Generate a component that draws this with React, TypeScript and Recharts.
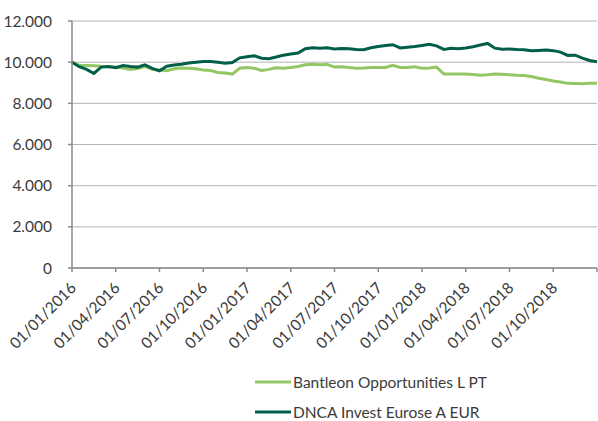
import React from "react";
import { LineChart, Line, XAxis, YAxis, CartesianGrid, Legend } from "recharts";

// Half-month steps from 01/01/2016 (index 0) to 01/01/2019 (index 72)
const tickLabels = [
  "01/01/2016", "01/04/2016", "01/07/2016", "01/10/2016",
  "01/01/2017", "01/04/2017", "01/07/2017", "01/10/2017",
  "01/01/2018", "01/04/2018", "01/07/2018", "01/10/2018", "",
];

const yTicks = [0, 2000, 4000, 6000, 8000, 10000, 12000];

const bantleon = [
  10000, 9840, 9840, 9830, 9800, 9780, 9760, 9710, 9640, 9690,
  9790, 9650, 9620, 9580, 9680, 9720, 9700, 9680, 9620, 9590,
  9500, 9470, 9420, 9710, 9740, 9700, 9600, 9650, 9730, 9700,
  9740, 9790, 9870, 9900, 9870, 9890, 9760, 9780, 9740, 9710,
  9720, 9740, 9740, 9740, 9850, 9740, 9740, 9780, 9710, 9720,
  9760, 9420, 9420, 9420, 9420, 9400, 9370, 9390, 9420, 9410,
  9390, 9360, 9350, 9300, 9220, 9160, 9090, 9040, 8970, 8960,
  8950, 8970, 8980,
];

const dnca = [
  10000, 9780, 9650, 9450, 9760, 9790, 9730, 9840, 9790, 9760,
  9870, 9700, 9580, 9800, 9860, 9900, 9960, 10000, 10030, 10030,
  10000, 9950, 9980, 10210, 10260, 10310, 10190, 10170, 10250, 10340,
  10400, 10440, 10650, 10700, 10680, 10700, 10640, 10660, 10650, 10610,
  10600, 10700, 10760, 10810, 10850, 10690, 10730, 10760, 10810, 10870,
  10790, 10620, 10670, 10650, 10690, 10750, 10830, 10910, 10680, 10630,
  10640, 10610, 10600, 10550, 10570, 10590, 10560, 10490, 10330, 10340,
  10200, 10080, 10020,
];

const data = bantleon.map((v, i) => ({ t: i, bantleon: v, dnca: dnca[i] }));
const xTicks = tickLabels.map((_, i) => i * 6);

const FONT = "Lato, 'DejaVu Sans', sans-serif";
const FS = 15.5;
const TEXT = "#3b3b3b";
const AXIS = "#8a8a8a";
const LIGHT = "#93c764";
const DARK = "#005e49";

const fmtY = (v: number) =>
  v === 0 ? "0" : `${Math.floor(v / 1000)}.${String(v % 1000).padStart(3, "0")}`;

const XTick = (props: any) => {
  const { x, y, payload } = props;
  const label = tickLabels[Math.round(payload.value / 6)];
  if (!label) return null;
  const ax = x + 5;
  const ay = y + 17;
  return (
    <text
      x={ax}
      y={ay}
      textAnchor="end"
      transform={`rotate(-45, ${ax}, ${ay})`}
      fontSize={FS}
      fontFamily={FONT}
      fill={TEXT}
    >
      {label}
    </text>
  );
};

const LegendContent = (props: any) => {
  const { payload } = props;
  return (
    <div style={{ fontFamily: FONT, fontSize: FS, color: TEXT }}>
      {(payload || []).map((p: any) => (
        <div key={p.value} style={{ display: "flex", alignItems: "center", height: 30 }}>
          <svg width={38} height={6} style={{ display: "block" }}>
            <line x1={0} y1={3} x2={36} y2={3} stroke={p.color} strokeWidth={3} />
          </svg>
          <span style={{ whiteSpace: "nowrap" }}>{p.value}</span>
        </div>
      ))}
    </div>
  );
};

export default function App() {
  return (
    <div style={{ position: "absolute", left: 0, top: 0, width: 598, height: 421, background: "#fff" }}>
      <LineChart width={598} height={421} data={data} margin={{ top: 21, right: 1, left: 0, bottom: 0 }}>
        <CartesianGrid horizontal vertical={false} stroke="#b3b3b3" strokeWidth={1} />
        <XAxis
          dataKey="t"
          type="number"
          domain={[0, 72]}
          ticks={xTicks}
          interval={0}
          height={153}
          tickSize={4}
          tickMargin={0}
          stroke={AXIS}
          strokeWidth={1.5}
          tick={<XTick />}
        />
        <YAxis
          domain={[0, 12000]}
          ticks={yTicks}
          width={72}
          tickSize={4}
          tickMargin={16}
          stroke={AXIS}
          strokeWidth={1.5}
          tickFormatter={fmtY}
          tick={{ fontSize: FS, fontFamily: FONT, fill: TEXT }}
        />
        <Legend
          layout="vertical"
          align="center"
          verticalAlign="middle"
          content={<LegendContent />}
          wrapperStyle={{ top: 367, left: 255, width: 330, height: 60 }}
        />
        <Line
          type="linear"
          dataKey="bantleon"
          name="Bantleon Opportunities L PT"
          stroke={LIGHT}
          strokeWidth={3}
          dot={false}
          isAnimationActive={false}
        />
        <Line
          type="linear"
          dataKey="dnca"
          name="DNCA Invest Eurose A EUR"
          stroke={DARK}
          strokeWidth={3}
          dot={false}
          isAnimationActive={false}
        />
      </LineChart>
    </div>
  );
}
